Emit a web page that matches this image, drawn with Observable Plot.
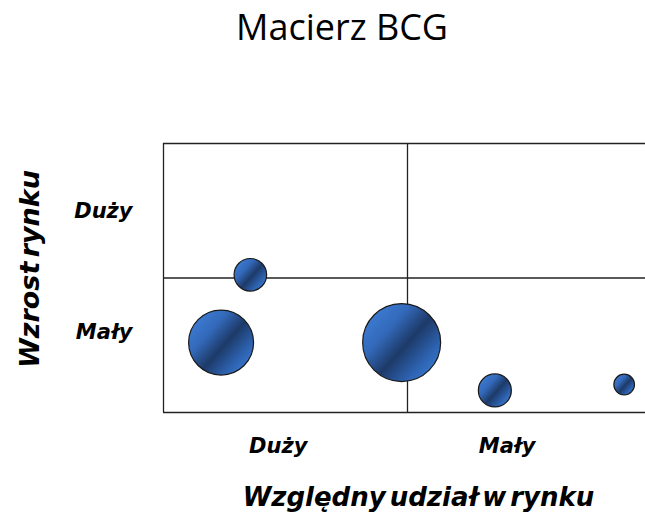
<!DOCTYPE html>
<html>
<head>
<meta charset="utf-8">
<script src="https://cdn.jsdelivr.net/npm/d3@7"></script>
<script src="https://cdn.jsdelivr.net/npm/@observablehq/plot@0.6"></script>
<style>
  html, body { margin: 0; padding: 0; background: #fff; overflow: hidden; }
  #chart svg { overflow: hidden; }
</style>
</head>
<body>
<div id="chart"></div>
<script>
// --- data ---
const title = "Macierz BCG";
const xTitle = "Względny udział w rynku";
const yTitle = "Wzrost rynku";
// bubble positions (relative share 0..10, market growth 0..10) and sizes (sales)
const bubbleShare  = [1.78, 1.18, 4.88, 6.79, 9.44];
const bubbleGrowth = [5.12, 2.60, 2.60, 0.82, 1.04];
const bubbleSales  = [265, 1055, 1520, 272, 106];
// quadrant dividers
const dividers = [0, 5, 10];
// tick labels
const xTickValues = [2.35, 7.04];
const xTickLabels = ["Duży", "Mały"];
const yTickValues = [7.49, 2.97];
const yTickLabels = ["Duży", "Mały"];

const bubbles = bubbleShare.map((x, i) => ({x, y: bubbleGrowth[i], s: bubbleSales[i]}));
const labelFont = "DejaVu Sans";

const plot = Plot.plot({
  width: 645,
  height: 519,
  marginLeft: 163,
  marginRight: 0,
  marginTop: 143,
  marginBottom: 107,
  style: {background: "#fff", color: "#000", overflow: "hidden"},
  x: {domain: [0, 10], range: [163, 651]},
  y: {domain: [0, 10], range: [412, 143]},
  r: {type: "sqrt", domain: [0, 1520], range: [0, 39]},
  marks: [
    Plot.ruleX(dividers, {stroke: "#222", strokeWidth: 1.3}),
    Plot.ruleY(dividers, {stroke: "#222", strokeWidth: 1.3}),
    Plot.axisY(yTickValues, {
      tickSize: 0, tickPadding: 31, label: null,
      tickFormat: d => yTickLabels[yTickValues.indexOf(d)],
      fontSize: 21, fontWeight: "bold", fontStyle: "italic", fontFamily: labelFont
    }),
    Plot.axisX(xTickValues, {
      tickSize: 0, tickPadding: 26, label: null, textAnchor: "middle",
      tickFormat: d => xTickLabels[xTickValues.indexOf(d)],
      fontSize: 21, fontWeight: "bold", fontStyle: "italic", fontFamily: labelFont
    }),
    Plot.dot(bubbles, {
      x: "x", y: "y", r: "s",
      fill: "url(#bubbleGrad)", stroke: "#1a1a1a", strokeWidth: 1.2
    }),
    Plot.text([title], {
      frameAnchor: "top", dx: -62.5, dy: -115.2, lineAnchor: "middle",
      fontSize: 36, fontFamily: "Open Sans", fill: "#000"
    }),
    Plot.text([xTitle], {
      frameAnchor: "bottom", dx: 14, dy: 84.7, lineAnchor: "middle",
      fontSize: 26, fontWeight: "bold", fontStyle: "italic", fontFamily: labelFont,
      fill: "#000"
    }),
    Plot.text([yTitle], {
      frameAnchor: "left", textAnchor: "middle", dx: -133.6, dy: -9, rotate: -90, lineAnchor: "middle",
      fontSize: 27, fontWeight: "bold", fontStyle: "italic", fontFamily: labelFont,
      fill: "#000"
    })
  ]
});

// gradient definition for bubbles
const ns = "http://www.w3.org/2000/svg";
const defs = document.createElementNS(ns, "defs");
const grad = document.createElementNS(ns, "linearGradient");
grad.setAttribute("id", "bubbleGrad");
grad.setAttribute("x1", "0.05"); grad.setAttribute("y1", "0.1");
grad.setAttribute("x2", "0.95"); grad.setAttribute("y2", "0.9");
[["0", "#3e80d8"], ["0.3", "#3369ba"], ["0.55", "#1d3a68"], ["0.8", "#2d62b0"], ["1", "#3d7ed6"]].forEach(([o, c]) => {
  const st = document.createElementNS(ns, "stop");
  st.setAttribute("offset", o);
  st.setAttribute("stop-color", c);
  grad.appendChild(st);
});
defs.appendChild(grad);
plot.insertBefore(defs, plot.firstChild);
plot.querySelectorAll("text").forEach(t => {
  if (t.textContent === xTitle || t.textContent === yTitle) t.style.wordSpacing = "-5px";
});
document.getElementById("chart").appendChild(plot);
</script>
</body>
</html>
